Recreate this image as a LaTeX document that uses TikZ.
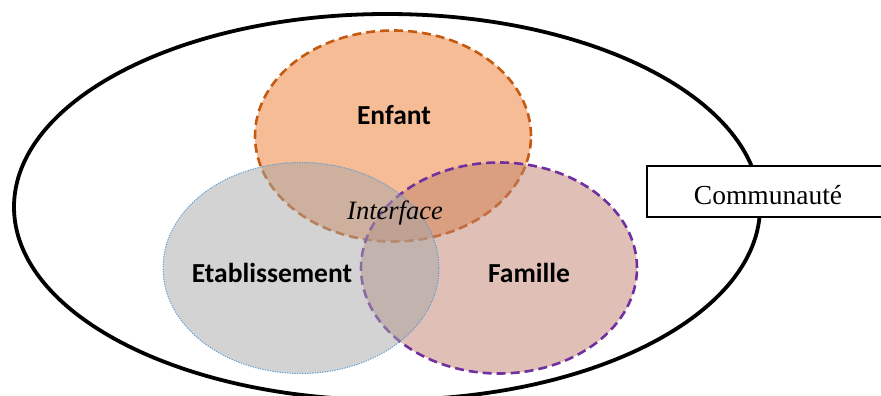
\documentclass[tikz,border=0pt]{standalone}
\usepackage{fontspec}
\setmainfont{Liberation Serif}
\newfontfamily\calib{Carlito}
\usetikzlibrary{shapes.geometric}
\definecolor{enfantfill}{RGB}{245,188,150}
\definecolor{enfantline}{RGB}{197,90,17}
\definecolor{famfill}{RGB}{193,129,109}
\definecolor{famline}{RGB}{112,48,160}
\definecolor{etabfill}{RGB}{167,167,167}
\definecolor{etabline}{RGB}{91,155,213}
\tikzset{
  circ/.style={ellipse, inner sep=0pt, minimum width=276pt, minimum height=211pt},
  lbl/.style={font=\calib\bfseries\fontsize{27.5}{32}\selectfont, inner sep=0pt},
}
\begin{document}
\begin{tikzpicture}[x=1pt,y=1pt]
\useasboundingbox (0,0) rectangle (881,396);
\node[ellipse, inner sep=0pt, minimum width=746pt, minimum height=386pt, draw=black, line width=3.8pt] (comm) at (387,189) {};
\node[circ, fill=enfantfill, draw=enfantline, line width=2.6pt, dash pattern=on 9pt off 5pt] (enf) at (393,260) {};
\node[circ, fill=famfill, fill opacity=0.5, draw=famline, draw opacity=1, line width=2.6pt, dash pattern=on 9pt off 5pt] (fam) at (499,128) {};
\node[circ, fill=etabfill, fill opacity=0.5, draw=etabline, draw opacity=1, line width=1pt, dash pattern=on 1.2pt off 1.3pt] (etab) at (301,128) {};
\node[lbl] (lenf) at (394,281) {Enfant};
\node[lbl] (letab) at (272,123) {Etablissement};
\node[lbl] (lfam) at (529,123) {Famille};
\node[font=\itshape\fontsize{26.5}{30}\selectfont, inner sep=0pt] (inter) at (395,183) {Interface};
\draw[fill=white, draw=black, line width=2pt] (647,179) rectangle (890,230);
\node[font=\fontsize{27.5}{32}\selectfont, inner sep=0pt] (lcomm) at (768,201) {Communauté};
\end{tikzpicture}
\end{document}
